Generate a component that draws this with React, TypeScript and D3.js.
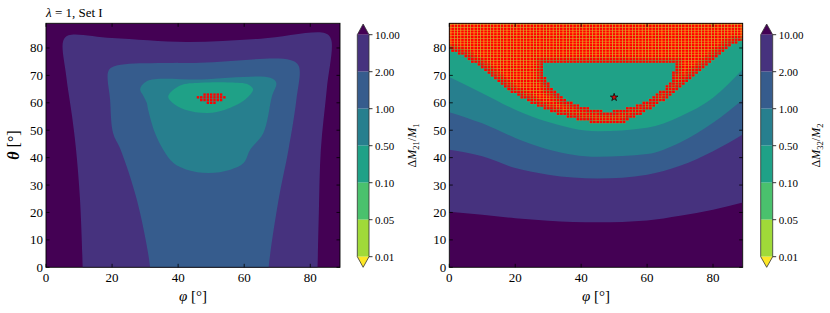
import React from 'react';
import * as d3 from 'd3';

// ---------- data ----------
const levelLabels = ['10.00', '2.00', '1.00', '0.50', '0.10', '0.05', '0.01'];
const phiTicks = [0, 20, 40, 60, 80];
const thetaTicks = [0, 10, 20, 30, 40, 50, 60, 70, 80];
const gridPhi = d3.range(0, 90);
const gridTheta = d3.range(0, 90);

// Left panel: closed contour outlines [phi, theta]
const left2to10: [number, number][] = [
  [5.2, 82.5], [6.8, 84.6], [20, 83.6], [42.6, 82.2], [65, 83.4], [84.5, 85.4], [86.3, 83.2],
  [85, 65], [83.2, 42.9], [82.6, 20], [82.2, 0], [82, -6], [11.2, -6], [11.1, 0],
  [10.3, 24.6], [9.1, 42.9], [7.9, 55], [6.1, 70],
];
const left1to2: [number, number][] = [
  [18.9, 71.6], [20.9, 73.4], [46.7, 74.6], [73.9, 75.6], [76.5, 73.4], [75.8, 61.2],
  [73.4, 42.9], [70.4, 24.6], [67.4, 0], [67.2, -6], [31.5, -6], [31.5, 0], [27.5, 24.6],
  [22.6, 42.9], [20.3, 49], [19.4, 61.2],
];
const left05to1: [number, number][] = [
  [28.5, 65.0], [30.5, 67.9], [47, 68.5], [67.9, 69.1], [69.7, 67.3], [68.4, 62.4],
  [65.8, 49], [61.8, 42.9], [59.8, 38], [55.8, 35.6], [49.2, 34.4], [42.6, 35.6],
  [38.6, 38], [35.5, 42.9], [33, 49], [30.9, 57.6], [30.5, 60], [29.5, 62.5],
];
const left01to05: [number, number][] = [
  [37, 62.4], [40.6, 66.3], [46.7, 67.3], [55.8, 67.4], [61.2, 66.7], [62.7, 64.9],
  [60.3, 61.2], [54.2, 57.5], [49, 56.3], [42.1, 57.5], [38.2, 60.1],
];
const leftMarkTheta = [63, 62, 61, 60];
const leftMarkFrom = [48, 46, 47, 49];
const leftMarkTo = [53, 54, 53, 51];

// Right panel: level boundaries theta(phi)
const rightPhi = [0, 10, 20, 30, 45, 60, 70, 80, 89];
const rightEdge10 = [20.3, 19.2, 17.9, 17, 16.4, 17.1, 18.8, 21, 23.6];
const rightEdge2 = [42.9, 40.5, 36.2, 33.8, 32.4, 33.8, 37, 42.3, 48.4];
const rightEdge1 = [56.6, 52.5, 47.2, 43, 40.3, 41.3, 45.5, 52.7, 61.2];
const rightEdge05 = [69.4, 63.5, 57.5, 53, 49.6, 50.9, 55, 61.8, 72.2];
// lower edge of the marked (low value) region
const rightLowEdge: [number, number][] = [
  [0, 79.5], [4.2, 77.1], [11.4, 71.6], [17.4, 64.9], [24.5, 60], [31.6, 56.3], [38.7, 53.9],
  [44.8, 52.4], [51.9, 52.4], [58, 55.7], [64, 60], [72.2, 67.9], [79.2, 75.2], [85.3, 80.7], [89, 82.5],
];
// inner unmarked hole
const rightHole: [number, number][] = [
  [28.6, 74.3], [48, 74.3], [68.1, 74.3], [68.1, 72.3], [67.6, 68.5], [65, 64.9], [61, 61.4],
  [55.9, 58.6], [51.9, 57.6], [47.8, 56.6], [43.8, 57.6], [39.7, 58.8], [34.6, 61.8],
  [31.6, 64.9], [29.2, 68.5], [28.6, 70.4],
];
const starPoint: [number, number] = [50, 62];

// ---------- styling ----------
const colors = d3.range(8).map((i) => d3.interpolateViridis(i / 7)); // 0: >10 ... 7: <0.01
const FONT = "'Liberation Serif', 'DejaVu Serif', serif";
const TOP = 23.3;
const BOTTOM = 267.3;

function Axes({ x0, x1, showThetaLabel }: { x0: number; x1: number; showThetaLabel: boolean }) {
  const x = d3.scaleLinear().domain([0, 89]).range([x0, x1]);
  const y = d3.scaleLinear().domain([0, 89]).range([BOTTOM, TOP]);
  const tl = 3.5;
  return (
    <g>
      <rect x={x0} y={TOP} width={x1 - x0} height={BOTTOM - TOP} fill="none" stroke="#000" strokeWidth={0.9} />
      {phiTicks.map((t) => (
        <g key={'px' + t}>
          <line x1={x(t)} x2={x(t)} y1={BOTTOM} y2={BOTTOM - tl} stroke="#000" strokeWidth={0.8} />
          <line x1={x(t)} x2={x(t)} y1={TOP} y2={TOP + tl} stroke="#000" strokeWidth={0.8} />
          <text x={x(t)} y={282} textAnchor="middle" fontSize={13} fontFamily={FONT}>{t}</text>
        </g>
      ))}
      {thetaTicks.map((t) => (
        <g key={'ty' + t}>
          <line x1={x0} x2={x0 + tl} y1={y(t)} y2={y(t)} stroke="#000" strokeWidth={0.8} />
          <line x1={x1} x2={x1 - tl} y1={y(t)} y2={y(t)} stroke="#000" strokeWidth={0.8} />
          <text x={x0 - 3} y={y(t) + 4.5} textAnchor="end" fontSize={13} fontFamily={FONT}>{t}</text>
        </g>
      ))}
      <text x={(x0 + x1) / 2} y={301} textAnchor="middle" fontSize={15} fontFamily={FONT}>
        <tspan fontStyle="italic">φ</tspan> [°]
      </text>
      {showThetaLabel && (
        <text transform={`translate(19,145) rotate(-90)`} textAnchor="middle" fontSize={16} fontFamily={FONT}>
          <tspan fontStyle="italic" fontWeight="bold">θ</tspan> [°]
        </text>
      )}
    </g>
  );
}

function Colorbar({ x0, x1, labelX, sub1, sub2 }: { x0: number; x1: number; labelX: number; sub1: string; sub2: string }) {
  const yTop = 34.7, yBot = 256.7, tipTop = 24, tipBot = 267.3;
  const cy = d3.scalePoint<string>().domain(levelLabels).range([yTop, yBot]);
  const mid = (x0 + x1) / 2;
  const outline = `M${x0},${yTop} L${mid},${tipTop} L${x1},${yTop} L${x1},${yBot} L${mid},${tipBot} L${x0},${yBot} Z`;
  return (
    <g>
      <polygon points={`${x0},${yTop} ${mid},${tipTop} ${x1},${yTop}`} fill={colors[0]} />
      {levelLabels.slice(0, 6).map((l, i) => (
        <rect key={l} x={x0} y={cy(l)!} width={x1 - x0} height={cy(levelLabels[i + 1])! - cy(l)!} fill={colors[i + 1]} />
      ))}
      <polygon points={`${x0},${yBot} ${mid},${tipBot} ${x1},${yBot}`} fill={colors[7]} />
      <path d={outline} fill="none" stroke="#333" strokeWidth={0.8} />
      {levelLabels.map((l) => (
        <g key={'cb' + l}>
          <line x1={x1} x2={x1 + 3.5} y1={cy(l)!} y2={cy(l)!} stroke="#000" strokeWidth={0.8} />
          <text x={x1 + 6} y={cy(l)! + 4} fontSize={11} fontFamily={FONT}>{l}</text>
        </g>
      ))}
      <text transform={`translate(${labelX},145.5) rotate(-90)`} textAnchor="middle" fontSize={12} fontFamily={FONT}>
        Δ<tspan fontStyle="italic">M</tspan>
        <tspan fontSize={8.5} dy={3}>{sub1}</tspan>
        <tspan dy={-3}>/</tspan>
        <tspan fontStyle="italic">M</tspan>
        <tspan fontSize={8.5} dy={3}>{sub2}</tspan>
      </text>
    </g>
  );
}

function LeftPanel() {
  const x0 = 46, x1 = 340;
  const x = d3.scaleLinear().domain([0, 89]).range([x0, x1]);
  const y = d3.scaleLinear().domain([0, 89]).range([BOTTOM, TOP]);
  const closed = d3.line<[number, number]>().x((d) => x(d[0])).y((d) => y(d[1])).curve(d3.curveCatmullRomClosed.alpha(0.5));
  const sq = 2.4;
  const marks: [number, number][] = [];
  leftMarkTheta.forEach((t, i) => {
    d3.range(leftMarkFrom[i], leftMarkTo[i] + 1).forEach((p) => marks.push([p, t]));
  });
  return (
    <g>
      <defs>
        <clipPath id="clipL"><rect x={x0} y={TOP} width={x1 - x0} height={BOTTOM - TOP} /></clipPath>
      </defs>
      <g clipPath="url(#clipL)">
        <rect x={x0} y={TOP} width={x1 - x0} height={BOTTOM - TOP} fill={colors[0]} />
        <path d={closed(left2to10)!} fill={colors[1]} />
        <path d={closed(left1to2)!} fill={colors[2]} />
        <path d={closed(left05to1)!} fill={colors[3]} />
        <path d={closed(left01to05)!} fill={colors[4]} />
        {marks.map(([p, t]) => (
          <rect key={p + '-' + t} x={x(p) - sq / 2} y={y(t) - sq / 2} width={sq} height={sq} fill="#ff0000" />
        ))}
      </g>
      <Axes x0={x0} x1={x1} showThetaLabel={true} />
      <text x={x0} y={17} fontSize={13} fontFamily={FONT}>
        <tspan fontStyle="italic">λ</tspan> = 1, Set I
      </text>
    </g>
  );
}

function RightPanel() {
  const x0 = 449.3, x1 = 742.7;
  const x = d3.scaleLinear().domain([0, 89]).range([x0, x1]);
  const y = d3.scaleLinear().domain([0, 89]).range([BOTTOM, TOP]);
  const above = d3.area<[number, number]>().x((d) => x(d[0])).y0(y(95)).y1((d) => y(d[1])).curve(d3.curveMonotoneX);
  const edges = [rightEdge10, rightEdge2, rightEdge1, rightEdge05];
  const bandPoly: [number, number][] = [
    [-1, rightLowEdge[0][1]], ...rightLowEdge, [90, rightLowEdge[rightLowEdge.length - 1][1]], [90, 95], [-1, 95],
  ];
  const key = (p: number, t: number) => p * 1000 + t;
  const marked = new Set<number>();
  const marks: [number, number][] = [];
  gridPhi.forEach((p) =>
    gridTheta.forEach((t) => {
      if (d3.polygonContains(bandPoly, [p, t]) && !d3.polygonContains(rightHole, [p, t])) {
        marks.push([p, t]);
        marked.add(key(p, t));
      }
    })
  );
  const isM = (p: number, t: number) =>
    p < 0 || p > 89 || t > 89 ? true : t < 0 ? false : marked.has(key(p, t));
  // depth of each marked cell from the region edge (0 = on edge)
  const depth = (p: number, t: number) => {
    for (let r = 1; r <= 2; r++) {
      for (let dp = -r; dp <= r; dp++)
        for (let dt = -r; dt <= r; dt++) if (!isM(p + dp, t + dt)) return r - 1;
    }
    return 2;
  };
  const cw = x(1) - x(0);
  const ch = y(0) - y(1);
  const bgColor = [colors[5], colors[6], colors[7]];
  const sqW = 2.75, sqH = 2.35;
  const star = d3.symbol().type(d3.symbolStar).size(18)();
  return (
    <g>
      <defs>
        <clipPath id="clipR"><rect x={x0} y={TOP} width={x1 - x0} height={BOTTOM - TOP} /></clipPath>
      </defs>
      <g clipPath="url(#clipR)">
        <rect x={x0} y={TOP} width={x1 - x0} height={BOTTOM - TOP} fill={colors[0]} />
        {edges.map((e, i) => (
          <path key={i} d={above(rightPhi.map((p, j) => [p, e[j]] as [number, number]))!} fill={colors[i + 1]} />
        ))}
        {marks.map(([p, t]) => {
          const c = bgColor[depth(p, t)];
          return c ? (
            <rect key={'b' + p + '-' + t} x={x(p) - cw / 2} y={y(t) - ch / 2} width={cw + 0.05} height={ch + 0.05} fill={c} />
          ) : null;
        })}
        {marks.map(([p, t]) => (
          <rect key={p + '-' + t} x={x(p) - sqW / 2} y={y(t) - sqH / 2} width={sqW} height={sqH} fill="#ff0000" />
        ))}
        <path d={star!} transform={`translate(${x(starPoint[0])},${y(starPoint[1])})`} fill="#d01010" stroke="#000" strokeWidth={0.7} />
      </g>
      <Axes x0={x0} x1={x1} showThetaLabel={false} />
    </g>
  );
}

export default function App() {
  return (
    <svg width={830} height={313} style={{ display: 'block', position: 'absolute', left: 0, top: 0, background: '#fff' }}>
      <rect width={830} height={313} fill="#fff" />
      <LeftPanel />
      <Colorbar x0={357.3} x1={369} labelX={416} sub1="21" sub2="1" />
      <RightPanel />
      <Colorbar x0={760.7} x1={772.7} labelX={820} sub1="32" sub2="2" />
    </svg>
  );
}
